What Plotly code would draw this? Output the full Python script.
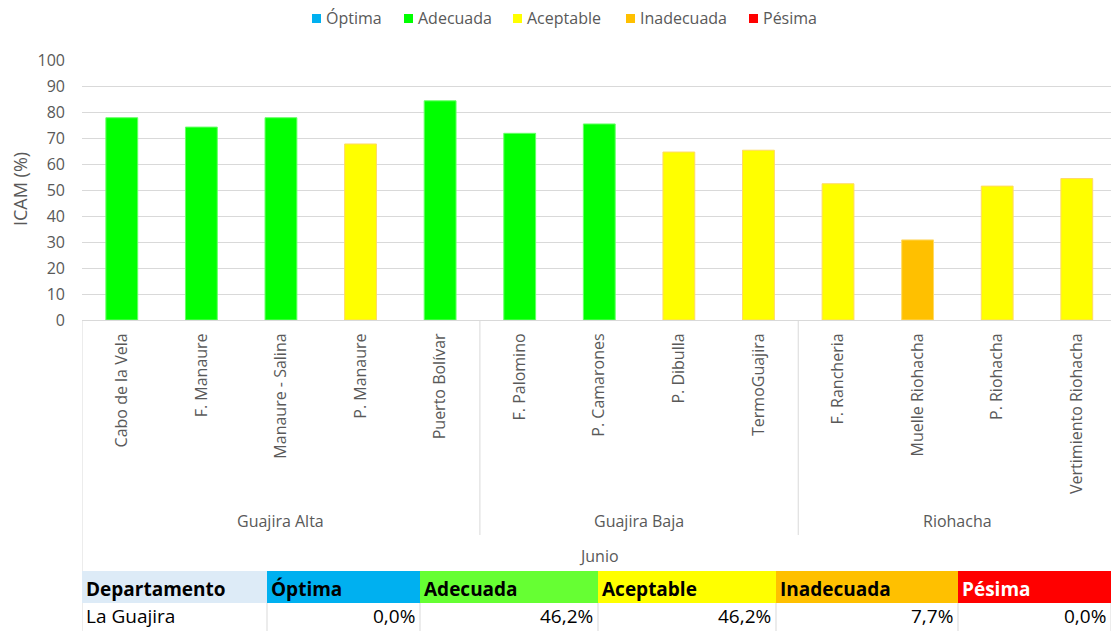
import plotly.graph_objects as go

# ---- data ----
stations = ["Cabo de la Vela", "F. Manaure", "Manaure - Salina", "P. Manaure", "Puerto Bolívar",
            "F. Palomino", "P. Camarones", "P. Dibulla", "TermoGuajira",
            "F. Rancheria", "Muelle Riohacha", "P. Riohacha", "Vertimiento Riohacha"]
icam = [77.8, 74.2, 77.8, 67.7, 84.3, 71.8, 75.4, 64.6, 65.3, 52.4, 30.8, 51.5, 54.4]
quality = ["Adecuada", "Adecuada", "Adecuada", "Aceptable", "Adecuada",
           "Adecuada", "Adecuada", "Aceptable", "Aceptable",
           "Aceptable", "Inadecuada", "Aceptable", "Aceptable"]
zones = ["Guajira Alta", "Guajira Baja", "Riohacha"]
zone_sizes = [5, 4, 4]
month = "Junio"
classes = ["Óptima", "Adecuada", "Aceptable", "Inadecuada", "Pésima"]
class_colors = ["#00B0F0", "#00FF00", "#FFFF00", "#FFC000", "#FF0000"]
class_edges = ["#7FD7F7", "#66FF66", "#FFD966", "#FFD966", "#FF6666"]
yticks = [0, 10, 20, 30, 40, 50, 60, 70, 80, 90, 100]

table_header = ["Departamento", "Óptima", "Adecuada", "Aceptable", "Inadecuada", "Pésima"]
table_header_colors = ["#DDEBF7", "#00B0F0", "#66FF33", "#FFFF00", "#FFC000", "#FF0000"]
table_header_font = ["#000000", "#000000", "#000000", "#000000", "#000000", "#FFFFFF"]
table_row = ["La Guajira", "0,0%", "46,2%", "46,2%", "7,7%", "0,0%"]

# ---- layout geometry (pixels) ----
W, H = 1111, 631
L, T, B0 = 82, 60, 320          # plot left, plot top, plot bottom (y=0)
PW, PH = W - L, B0 - T
def px_x(px):
    return (px - L) / PW
def px_y(py):
    return (B0 - py) / PH

GRAY = "#595959"
LINE = "#D9D9D9"
FONT = "Open Sans"
FS = 16

fig = go.Figure()
xs = list(range(len(stations)))
for cls, col, edge in zip(classes, class_colors, class_edges):
    idx = [i for i, q in enumerate(quality) if q == cls]
    if not idx:
        continue
    fig.add_trace(go.Bar(
        x=[xs[i] for i in idx], y=[icam[i] for i in idx],
        name=cls, marker=dict(color=col, line=dict(color=edge, width=1)),
        width=0.4, showlegend=False))

shapes = []
annotations = []

# legend (drawn manually, Excel style)
legend_text_x = [325, 417, 526, 639, 762]
for cls, col, tx in zip(classes, class_colors, legend_text_x):
    shapes.append(dict(type="rect", xref="paper", yref="paper",
                       x0=px_x(tx - 13), x1=px_x(tx - 4), y0=px_y(23), y1=px_y(14),
                       fillcolor=col, line=dict(width=0)))
    annotations.append(dict(text=cls, x=px_x(tx - 1), y=px_y(18.5), xref="paper", yref="paper",
                            xanchor="left", yanchor="middle", showarrow=False,
                            font=dict(size=FS, color=GRAY, family=FONT)))

# group separators & group labels
bounds = [-0.5]
for s in zone_sizes:
    bounds.append(bounds[-1] + s)
for i, b in enumerate(bounds):
    y1 = px_y(640) if i == 0 else px_y(535)
    shapes.append(dict(type="line", xref="x", yref="paper", x0=b, x1=b, y0=0, y1=y1,
                       line=dict(color=LINE, width=1)))
for z, a, b in zip(zones, bounds[:-1], bounds[1:]):
    annotations.append(dict(text=z, x=(a + b) / 2, xref="x", y=px_y(521), yref="paper",
                            showarrow=False, font=dict(size=FS, color=GRAY, family=FONT),
                            xanchor="center", yanchor="middle"))
annotations.append(dict(text=month, x=(bounds[0] + bounds[-1]) / 2, xref="x", y=px_y(556),
                        yref="paper", showarrow=False, xanchor="center", yanchor="middle",
                        font=dict(size=FS, color=GRAY, family=FONT)))

# y axis title
annotations.append(dict(text="ICAM (%)", x=px_x(20), y=px_y(189), xref="paper", yref="paper",
                        textangle=-90, showarrow=False, xanchor="center", yanchor="middle",
                        font=dict(size=18, color=GRAY, family=FONT)))

# table
col_edges = [82, 267, 420, 598, 776, 958, 1111]
TFS = 19
for j in range(len(table_header)):
    x0, x1 = col_edges[j], col_edges[j + 1]
    shapes.append(dict(type="rect", xref="paper", yref="paper",
                       x0=px_x(x0), x1=px_x(x1), y0=px_y(603), y1=px_y(571),
                       fillcolor=table_header_colors[j], line=dict(width=0)))
    annotations.append(dict(text="<b>%s</b>" % table_header[j], x=px_x(x0 + 2), y=px_y(589),
                            xref="paper", yref="paper", xanchor="left", yanchor="middle",
                            showarrow=False,
                            font=dict(size=TFS, color=table_header_font[j], family=FONT)))
    if j == 0:
        annotations.append(dict(text=table_row[j], x=px_x(x0 + 2), y=px_y(616),
                                xref="paper", yref="paper", xanchor="left", yanchor="middle",
                                showarrow=False, font=dict(size=TFS, color="#000000", family=FONT)))
    else:
        annotations.append(dict(text=table_row[j], x=px_x(x1 - 3), y=px_y(616),
                                xref="paper", yref="paper", xanchor="right", yanchor="middle",
                                showarrow=False, font=dict(size=TFS, color="#000000", family=FONT)))
    shapes.append(dict(type="line", xref="paper", yref="paper", x0=px_x(x1), x1=px_x(x1),
                       y0=px_y(640), y1=px_y(603), line=dict(color=LINE, width=1)))

fig.update_layout(
    width=W, height=H,
    margin=dict(l=L, r=0, t=T, b=H - B0, pad=0),
    paper_bgcolor="white", plot_bgcolor="white",
    barmode="overlay", showlegend=False,
    font=dict(family=FONT, color=GRAY, size=FS),
    xaxis=dict(tickmode="array", tickvals=xs, ticktext=stations, tickangle=-90,
               range=[-0.5, 12.43], showgrid=False, showline=True, linecolor=LINE,
               linewidth=1, ticks="", ticklabelstandoff=6, zeroline=False,
               tickfont=dict(size=FS, color=GRAY, family=FONT), fixedrange=True),
    yaxis=dict(range=[0, 100], tickvals=yticks, showgrid=True, gridcolor=LINE, gridwidth=1,
               zeroline=False, showline=False, ticks="", ticklabelstandoff=16,
               tickfont=dict(size=FS, color=GRAY, family=FONT)),
    shapes=shapes, annotations=annotations,
)

fig.write_html("out.html", config={"displayModeBar": False},
               post_script="document.body.style.margin='0';document.body.style.overflow='hidden';")
